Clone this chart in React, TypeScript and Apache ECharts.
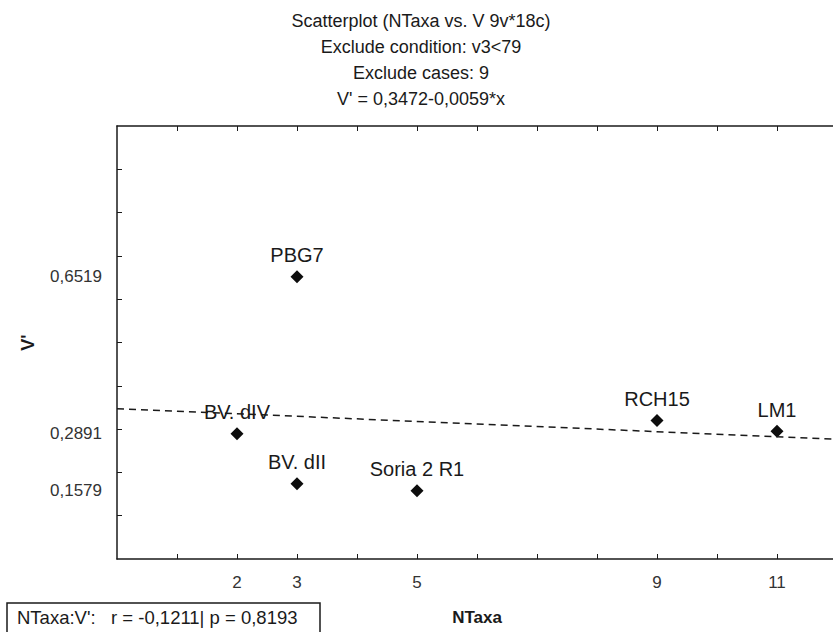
import React, { useEffect, useRef } from "react";
import * as echarts from "echarts";

const titleLines = [
  "Scatterplot (NTaxa vs. V 9v*18c)",
  "Exclude condition: v3<79",
  "Exclude cases: 9",
  "V' = 0,3472-0,0059*x",
];
const pointNames = ["BV. dIV", "PBG7", "BV. dII", "Soria 2 R1", "RCH15", "LM1"];
const nTaxa = [2, 3, 3, 5, 9, 11];
const vPrime = [0.2891, 0.6519, 0.1736, 0.1579, 0.32, 0.295];
const xLabelValues = [2, 3, 5, 9, 11];
const xTickValues = [1, 2, 3, 4, 5, 6, 7, 8, 9, 10, 11];
const yLabelValues = [0.1579, 0.2891, 0.6519];
const yTickValues = [0.1, 0.2, 0.3, 0.4, 0.5, 0.6, 0.7, 0.8, 0.9];
const intercept = 0.3472;
const slope = -0.0059;
const statsText = "NTaxa:V':   r = -0,1211| p = 0,8193";

const FONT = "'Liberation Sans', Arial, sans-serif";
const INK = "#1a1a1a";

export default function App() {
  const ref = useRef<HTMLDivElement>(null);
  useEffect(() => {
    if (!ref.current) return;
    const chart = echarts.init(ref.current, undefined, { renderer: "svg" });
    const xMin = 0;
    const xMax = 12;
    const comma = (v: number) => String(v).replace(".", ",");
    chart.setOption({
      animation: false,
      backgroundColor: "#ffffff",
      textStyle: { fontFamily: FONT },
      grid: { left: 117, top: 126, width: 720, height: 433, show: false },
      xAxis: [
        {
          type: "value",
          position: "bottom",
          min: xMin,
          max: xMax,
          interval: 1,
          name: "NTaxa",
          nameLocation: "middle",
          nameGap: 50,
          nameTextStyle: { fontFamily: FONT, fontSize: 17, fontWeight: "bold", color: INK },
          axisLine: { show: true, lineStyle: { color: INK, width: 1.5 } },
          axisTick: { show: true, inside: true, length: 5, customValues: xTickValues, lineStyle: { color: INK } },
          axisLabel: {
            customValues: xLabelValues,
            fontFamily: FONT,
            fontSize: 17,
            color: "#333",
            margin: 15,
            formatter: (v: number) => comma(v),
          },
          splitLine: { show: false },
        },
        {
          type: "value",
          position: "top",
          min: xMin,
          max: xMax,
          interval: 1,
          axisLine: { show: true, lineStyle: { color: INK, width: 1.5 } },
          axisTick: { show: true, inside: true, length: 5, customValues: xTickValues, lineStyle: { color: INK } },
          axisLabel: { show: false },
          splitLine: { show: false },
        },
      ],
      yAxis: [
        {
          type: "value",
          position: "left",
          min: 0,
          max: 1,
          name: "V'",
          nameLocation: "middle",
          nameGap: 80,
          nameRotate: 90,
          nameTextStyle: { fontFamily: FONT, fontSize: 18, fontWeight: "bold", color: INK },
          axisLine: { show: true, lineStyle: { color: INK, width: 1.5 } },
          axisTick: { show: true, inside: true, length: 5, customValues: yTickValues, lineStyle: { color: INK } },
          axisLabel: {
            customValues: yLabelValues,
            fontFamily: FONT,
            fontSize: 17,
            color: "#333",
            margin: 15,
            formatter: (v: number) => comma(v),
          },
          splitLine: { show: false },
        },
      ],
      graphic: [
        {
          type: "text",
          x: 421,
          y: 8,
          style: {
            text: titleLines.join("\n"),
            fontFamily: FONT,
            fontSize: 18,
            lineHeight: 26,
            fill: INK,
            align: "center",
            verticalAlign: "top",
          },
        },
        {
          type: "rect",
          shape: { x: 7, y: 603, width: 313, height: 40 },
          style: { fill: "#fff", stroke: INK, lineWidth: 1.5 },
        },
        {
          type: "text",
          x: 17,
          y: 617,
          style: {
            text: statsText,
            fontFamily: FONT,
            fontSize: 18.5,
            fill: INK,
            align: "left",
            verticalAlign: "middle",
          },
        },
      ],
      series: [
        {
          type: "scatter",
          xAxisIndex: 0,
          yAxisIndex: 0,
          symbol: "diamond",
          symbolSize: 13,
          itemStyle: { color: "#0d0d0d", opacity: 1 },
          label: {
            show: true,
            position: "top",
            distance: 5,
            formatter: (p: any) => p.name,
            fontFamily: FONT,
            fontSize: 20,
            color: INK,
          },
          data: nTaxa.map((x, i) => ({ name: pointNames[i], value: [x, vPrime[i]] })),
          markLine: {
            silent: true,
            symbol: "none",
            label: { show: false },
            lineStyle: { color: INK, type: [7, 5], width: 1.5, opacity: 1 },
            data: [
              [
                { coord: [xMin, intercept + slope * xMin] },
                { coord: [xMax, intercept + slope * xMax] },
              ],
            ],
          },
        },
      ],
    });
    return () => chart.dispose();
  }, []);
  return (
    <div
      style={{
        position: "absolute",
        left: 0,
        top: 0,
        width: 833,
        height: 632,
        overflow: "hidden",
        background: "#fff",
      }}
    >
      <div ref={ref} style={{ width: 850, height: 632 }} />
    </div>
  );
}
